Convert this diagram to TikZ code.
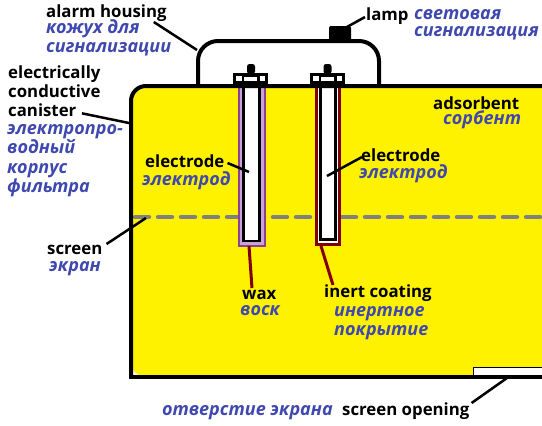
\documentclass[tikz,border=0pt]{standalone}
\usepackage{fontspec}
\setmainfont{Open Sans}
\usepackage{tikz}
\usetikzlibrary{positioning,arrows.meta,calc}
\definecolor{ink}{HTML}{000000}
\definecolor{amarillo}{HTML}{FFF200}
\definecolor{azul}{HTML}{3F48AE}
\definecolor{gris}{HTML}{808080}
\definecolor{malva}{HTML}{C8A2D8}
\definecolor{morado}{HTML}{8E3F8E}
\definecolor{rojo}{HTML}{800000}
\tikzset{
  en/.style={font=\fontsize{16.8}{19}\selectfont\bfseries,color=ink,inner sep=0pt,anchor=base west,align=left},
  ru/.style={font=\fontsize{18}{19}\selectfont\bfseries\itshape,color=azul,inner sep=0pt,anchor=base west,align=left},
  linea/.style={line width=2.5pt,color=ink},
  linear/.style={line width=3pt,color=rojo},
  pared/.style={line width=4pt,color=ink},
}
\begin{document}
\begin{tikzpicture}[x=1pt,y=-1pt]
  \useasboundingbox (0,0) rectangle (542,426);
  % cuerpo
  \fill[amarillo,rounded corners=15pt] (131,377) -- (131,86) -- (560,86) -- (560,377) -- cycle;
  \draw[gris,line width=4.5pt,dash pattern=on 14pt off 9pt,line cap=round] (135,217) -- (542,217);
  % electrodos
  \draw[morado,line width=2pt,fill=malva] (238.5,86) -- (238.5,246) -- (264.5,246) -- (264.5,86);
  \draw[ink,line width=2.5pt,fill=white] (243.5,86) -- (243.5,241) -- (259.5,241) -- (259.5,86);
  \draw[rojo,line width=3pt,fill=white] (316.5,86) -- (316.5,244.5) -- (339.5,244.5) -- (339.5,86);
  \draw[ink,line width=2.5pt,fill=white] (320.5,86) -- (320.5,239.5) -- (335.5,239.5) -- (335.5,86);
  % alarma
  \draw[pared,rounded corners=20pt] (198,86) -- (198,41) -- (379,41) -- (379,86);
  \fill[ink,rounded corners=2pt] (329,42) rectangle (351,26);
  \foreach \capx in {233,309.5} {
    \fill[ink] (\capx,73) rectangle ++(35,13);
    \fill[white] (\capx+3,76) rectangle ++(6,5);
    \fill[white] (\capx+11,77) rectangle ++(13,4);
    \fill[white] (\capx+27,76) rectangle ++(5,5);
    \fill[ink,rounded corners=2.5pt] (\capx+14,74) rectangle ++(8,-10);
  }
  % carcasa
  \draw[pared,rounded corners=15pt] (560,86) -- (131,86) -- (131,377);
  \draw[pared] (129,377) -- (542,377);
  \draw[ink,line width=1.5pt,fill=white] (473.5,375) -- (473.5,367.5) -- (543,367.5) -- (543,375);
  % textos
  \node[en] (alarm) at (46,17) {alarm housing};
  \node[ru,anchor=north west] (alarmru) at (46,19) {кожух для\\сигнализации};
  \node[en,anchor=north west] (canister) at (8,66) {electrically\\conductive\\canister};
  \node[ru,anchor=north west] (canisterru) at (7,124) {электропро-\\[0.5pt]водный\\[0.5pt]корпус\\[0.5pt]фильтра};
  \node[en] (screen) at (47,254) {screen};
  \node[ru] (screenru) at (49,271) {экран};
  \node[en] (lamp) at (366,20) {lamp};
  \node[ru,anchor=north west] (lampru) at (414,9) {световая\\[-2pt]сигнализация};
  \node[en] (adsorbent) at (433,109) {adsorbent};
  \node[ru] (adsorbentru) at (443,124) {сорбент};
  \node[en] (electa) at (145,167) {electrode};
  \node[ru] (electaru) at (142,185) {электрод};
  \node[en] (electb) at (361,161) {electrode};
  \node[ru] (electbru) at (359,178) {электрод};
  \node[en] (wax) at (242,299) {wax};
  \node[ru] (waxru) at (240,315) {воск};
  \node[en] (inert) at (324,297) {inert coating};
  \node[ru,anchor=north west] (inertru) at (334,306) {инертное\\покрытие};
  \node[ru] (openingru) at (162,415) {отверстие экрана};
  \node[en] (opening) at (342,415) {screen opening};
  % destinos
  \coordinate (alarmend) at (197,50);
  \coordinate (canisterend) at (129,123);
  \coordinate (screenend) at (146,218);
  \coordinate (lampend) at (347,27);
  \coordinate (electaend) at (249,172);
  \coordinate (electbend) at (327,176);
  \coordinate (waxend) at (249,246);
  \coordinate (inertend) at (321,246);
  \coordinate (openingend) at (507,378);
  % lineas
  \draw[linea] ($(alarm.base east)+(-13,5)$) -- (alarmend);
  \draw[linea] ($(canister.south west)+(74,-4)$) -- (canisterend);
  \draw[linea] ($(screen.base east)+(4,-10)$) -- (screenend);
  \draw[linea] ($(lamp.base west)+(-1,-3)$) -- (lampend);
  \draw[linea] ($(electa.base east)+(3,-4)$) -- (electaend);
  \draw[linea] ($(electb.base west)+(1,-4)$) -- (electbend);
  \draw[linear] ($(wax.base west)+(10,-11)$) -- (waxend);
  \draw[linear] ($(inert.base west)+(9,-12)$) -- (inertend);
  \draw[linea] ($(opening.base east)+(2,-12)$) -- (openingend);
\end{tikzpicture}
\end{document}
